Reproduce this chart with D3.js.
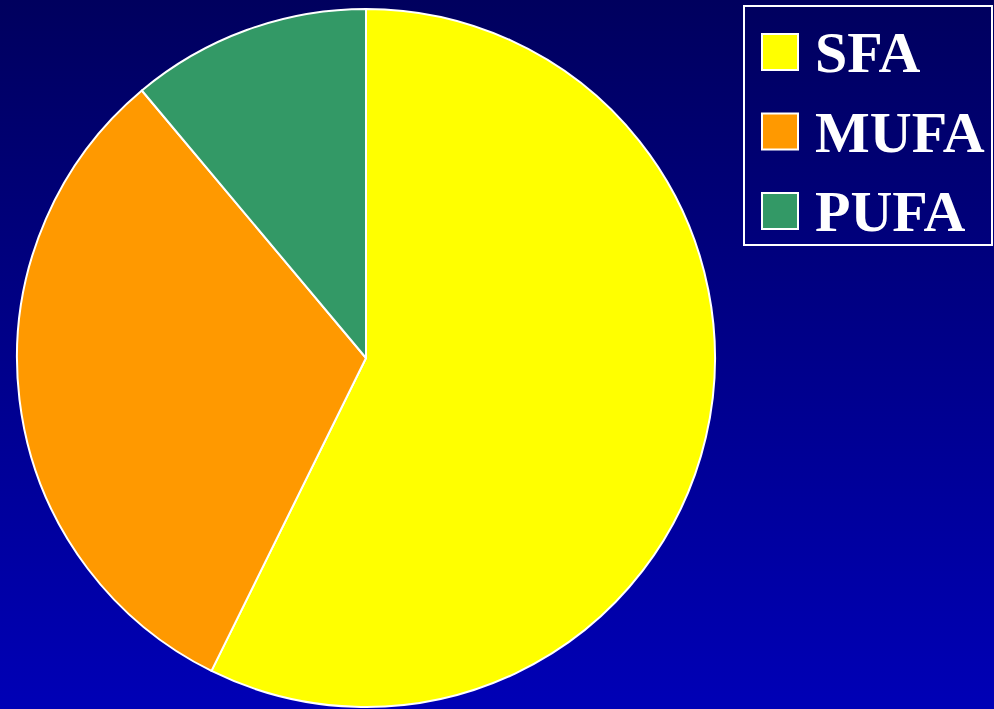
<!DOCTYPE html>
<html>
<head>
<meta charset="utf-8">
<script src="https://cdn.jsdelivr.net/npm/d3@7"></script>
<style>
    html, body { margin: 0; padding: 0; overflow: hidden; }
</style>
</head>
<body>
<div id="pie-chart"></div>
<script>
// Fatty acid shares (%)
const categories = ["SFA", "MUFA", "PUFA"];
const shares = [57.3, 31.6, 11.1];
const colors = ["#FFFF00", "#FF9900", "#339966"];

(function createPieChart() {
    const width = 994, height = 709;

    const svg = d3.select("#pie-chart").append("svg")
        .attr("width", width)
        .attr("height", height);

    // Background gradient, dark navy at top to blue at bottom
    const grad = svg.append("defs").append("linearGradient")
        .attr("id", "bg")
        .attr("x1", 0).attr("y1", 0)
        .attr("x2", 0).attr("y2", 1);
    grad.append("stop").attr("offset", "0%").attr("stop-color", "#00005E");
    grad.append("stop").attr("offset", "100%").attr("stop-color", "#0000B6");

    svg.append("rect")
        .attr("width", width)
        .attr("height", height)
        .attr("fill", "url(#bg)");

    const data = categories.map((c, i) => ({ name: c, value: shares[i] }));

    const color = d3.scaleOrdinal()
        .domain(categories)
        .range(colors);

    const pie = d3.pie()
        .value(d => d.value)
        .sort(null);

    const radius = 349;
    const arc = d3.arc()
        .innerRadius(0)
        .outerRadius(radius);

    const g = svg.append("g")
        .attr("transform", "translate(366,358)");

    g.selectAll("path")
        .data(pie(data))
        .enter().append("path")
        .attr("d", arc)
        .attr("fill", d => color(d.data.name))
        .attr("stroke", "#FFFFFF")
        .attr("stroke-width", 2)
        .attr("stroke-linejoin", "round");

    // Legend
    const legend = svg.append("g")
        .attr("transform", "translate(744,6)");

    legend.append("rect")
        .attr("width", 248)
        .attr("height", 239)
        .attr("fill", "none")
        .attr("stroke", "#FFFFFF")
        .attr("stroke-width", 2);

    categories.forEach((c, i) => {
        const row = legend.append("g")
            .attr("transform", `translate(0,${i * 79.5})`);

        row.append("rect")
            .attr("x", 18)
            .attr("y", 28)
            .attr("width", 36)
            .attr("height", 36)
            .attr("fill", color(c))
            .attr("stroke", "#FFFFFF")
            .attr("stroke-width", 2);

        row.append("text")
            .attr("x", 71)
            .attr("y", 66)
            .attr("fill", "#FFFFFF")
            .style("font-family", "'Liberation Serif', 'Times New Roman', serif")
            .style("font-weight", "bold")
            .style("font-size", "58px")
            .text(c);
    });
})();
</script>
</body>
</html>
